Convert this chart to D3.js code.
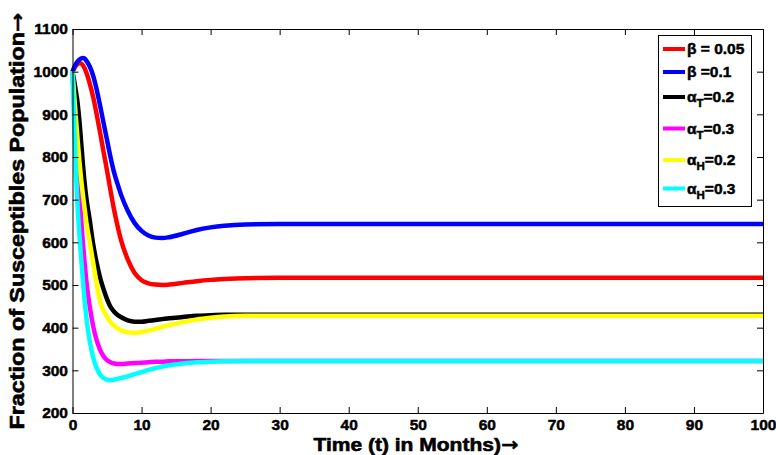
<!DOCTYPE html>
<html><head><meta charset="utf-8">
<script src="https://cdn.jsdelivr.net/npm/d3@7"></script>
<style>
html,body{margin:0;padding:0;background:#fff;}
svg text{font-family:"Liberation Sans",Arial,sans-serif;font-weight:bold;fill:#000;}
</style></head>
<body><svg id="c" width="776" height="455"></svg>
<script>
// ---- data ----
const times = [0,0.25,0.5,0.75,1,1.25,1.5,1.75,2,2.5,3,3.5,4,4.5,5,5.5,6,6.5,7,8,9,10,11,12,13,14,16,18,20,22,25,30,40,50,60,70,80,90,100];
const beta005 = [1000,1008,1014,1018,1020,1019,1015,1008,998,972,940,900,857,812,768,722,678,640,607,560,528,511,504,501,500,501,505,509,512,514,516,517,517,517,517,517,517,517,517];
const beta01  = [1000,1010,1018,1024,1028,1031,1032,1031,1026,1012,990,958,920,880,840,800,765,738,713,674,645,627,616,611,610,612,620,629,635,639,642,643,643,643,643,643,643,643,643];
const alphaT02 = [1000,978,953,925,885,835,785,740,705,652,595,552,517,490,467,449,438,430,425,417,414,414,416,418,420,422,425,428,429,430,430,430,430,430,430,430,430,430,430];
const alphaT03 = [1000,915,840,775,715,655,600,553,510,450,403,370,348,333,324,319,316,315,315,316,317,318,319,320,320,321,321,322,322,322,322,322,322,322,322,322,322,322,322];
const alphaH02 = [1000,945,890,838,790,748,712,680,648,600,552,503,462,440,426,413,405,399,394,389,388,390,393,397,402,406,413,419,423,426,428,428,428,428,428,428,428,428,428];
const alphaH03 = [1000,870,765,680,618,563,512,465,425,368,330,305,290,282,278,277,278,280,282,286,291,296,301,305,309,312,316,319,320,321,322,322,322,322,322,322,322,322,322];
const xTicks = [0,10,20,30,40,50,60,70,80,90,100];
const yTicks = [200,300,400,500,600,700,800,900,1000,1100];
const seriesNames = [["β"," = 0.05",null],["β"," =0.1",null],["α","=0.2","T"],["α","=0.3","T"],["α","=0.2","H"],["α","=0.3","H"]];
const seriesColors = ["#ff0000","#0000ff","#000000","#ff00ff","#ffff00","#00ffff"];
const seriesValues = [beta005,beta01,alphaT02,alphaT03,alphaH02,alphaH03];

// ---- layout ----
const L=72.5, R=763, T=29, B=413;
const svg=d3.select("#c");
const x=d3.scaleLinear().domain([0,100]).range([L,R]);
const y=d3.scaleLinear().domain([200,1100]).range([B,T]);

// lines
const line=d3.line().x(d=>x(d[0])).y(d=>y(d[1])).curve(d3.curveMonotoneX);
seriesValues.forEach((vals,i)=>{
  svg.append("path").datum(times.map((t,j)=>[t,vals[j]]))
    .attr("d",line).attr("fill","none").attr("stroke",seriesColors[i])
    .attr("stroke-width",4.5).attr("stroke-linejoin","round");
});

// axes (ticks inward on all sides)
const styleTxt=g=>g.selectAll("text").attr("font-size",15.5)
  .style("font-family","Liberation Sans, Arial").style("font-weight","bold");
svg.append("g").attr("transform",`translate(0,${B})`)
  .call(d3.axisBottom(x).tickValues(xTicks).tickSizeInner(-6).tickSizeOuter(0).tickPadding(6).tickFormat(d3.format("d")))
  .call(styleTxt);
svg.append("g").attr("transform",`translate(0,${T})`)
  .call(d3.axisTop(x).tickValues(xTicks).tickSizeInner(-6).tickSizeOuter(0).tickFormat(""));
svg.append("g").attr("transform",`translate(${L},0)`)
  .call(d3.axisLeft(y).tickValues(yTicks).tickSizeInner(-6).tickSizeOuter(0).tickPadding(4.5).tickFormat(d3.format("d")))
  .call(styleTxt);
svg.append("g").attr("transform",`translate(${R},0)`)
  .call(d3.axisRight(y).tickValues(yTicks).tickSizeInner(-6).tickSizeOuter(0).tickFormat(""));
svg.selectAll(".tick line").attr("stroke","#000");
svg.selectAll(".domain").attr("stroke","#000").attr("stroke-width",1);
svg.selectAll("text").attr("stroke","#000").attr("stroke-width",0.5);

// titles
const xt=svg.append("text").attr("x",416).attr("y",451).attr("text-anchor","middle")
  .attr("font-size",19).attr("stroke","#000").attr("stroke-width",0.6)
  .attr("textLength",205).attr("lengthAdjust","spacingAndGlyphs");
xt.append("tspan").text("Time (t) in Months)");
xt.append("tspan").style("font-family","DejaVu Sans").attr("stroke-width",0.3).text("→");
const yt=svg.append("text").attr("transform","translate(24,221) rotate(-90)").attr("text-anchor","middle")
  .attr("font-size",19.5).attr("stroke","#000").attr("stroke-width",0.6)
  .attr("textLength",417).attr("lengthAdjust","spacingAndGlyphs");
yt.append("tspan").text("Fraction of Susceptibles Population");
yt.append("tspan").style("font-family","DejaVu Sans").attr("stroke-width",0.3).text("→");

// legend
const lg=svg.append("g");
lg.append("rect").attr("x",658.5).attr("y",35.5).attr("width",93).attr("height",171)
  .attr("fill","#fff").attr("stroke","#000").attr("stroke-width",1);
const rowY=[49,72,97,128.5,160,188.5];
seriesNames.forEach((n,i)=>{
  lg.append("line").attr("x1",663).attr("x2",685).attr("y1",rowY[i]).attr("y2",rowY[i])
    .attr("stroke",seriesColors[i]).attr("stroke-width",4);
  const t=lg.append("text").attr("x",687).attr("y",rowY[i]+5).attr("font-size",15.5)
    .attr("stroke","#000").attr("stroke-width",0.5);
  t.append("tspan").text(n[0]);
  if(n[2]){
    t.append("tspan").attr("dy",5).attr("font-size",11.5).text(n[2]);
    t.append("tspan").attr("dy",-5).text(n[1]);
  } else t.append("tspan").text(n[1]);
});
</script></body></html>
